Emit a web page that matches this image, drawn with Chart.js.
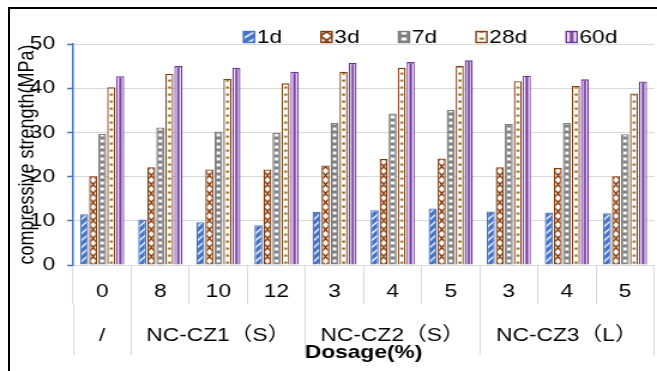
<!DOCTYPE html>
<html>
<head>
<meta charset="utf-8">
<script src="https://cdn.jsdelivr.net/npm/chart.js@4.4.1/dist/chart.umd.min.js"></script>
<style>
  html, body { margin: 0; padding: 0; background: #fff; }
  #frame { position: absolute; left: 8px; top: 7px; width: 700px; height: 400px;
           border-top: 2px solid #000; border-left: 2px solid #000; }
  /* the original picture is a little wider than tall, so the drawing is stretched sideways */
  #wrap { position: absolute; left: 0; top: 0; width: 548px; height: 371px;
          transform: scaleX(1.19891); transform-origin: 0 0; }
</style>
</head>
<body>
<div id="frame"></div>
<div id="wrap"><canvas id="strength" width="548" height="371"></canvas></div>
<script>
const dosages = ['0', '8', '10', '12', '3', '4', '5', '3', '4', '5'];
const groupNames = ['/', 'NC-CZ1（S）', 'NC-CZ2（S）', 'NC-CZ3（L）'];
const groupSizes = [1, 3, 3, 3];
const ages = ['1d', '3d', '7d', '28d', '60d'];

const day1 = [11.5, 10.3, 9.7, 9.0, 12.0, 12.4, 12.8, 12.1, 11.9, 11.7];
const day3 = [20.1, 22.1, 21.6, 21.6, 22.5, 24.0, 24.1, 22.1, 22.0, 20.1];
const day7 = [29.7, 31.1, 30.2, 29.9, 32.2, 34.3, 35.1, 31.9, 32.1, 29.6];
const day28 = [40.2, 43.2, 42.1, 41.1, 43.7, 44.6, 45.0, 41.6, 40.5, 38.8];
const day60 = [42.7, 45.0, 44.6, 43.7, 45.7, 45.9, 46.3, 42.8, 42.0, 41.5];

const yTicks = [0, 10, 20, 30, 40, 50];

const FONT = '"Liberation Sans", Arial, "Noto Sans CJK SC", sans-serif';
const blue = '#4472c4';
const brown = '#843c0c';
const gray = '#7f7f7f';
const olive = '#7f6000';
const purple = '#7030a0';
const borderColors = [blue, brown, gray, brown, purple];
const catPct = 0.776;
const barPct = 0.89;

// group boundaries / centres for the second label row
const bounds = [0];
groupSizes.forEach(n => bounds.push(bounds[bounds.length - 1] + n));
const centres = groupSizes.map((n, i) => bounds[i] + n / 2);

function makeTile(w, h, draw) {
    const c = document.createElement('canvas');
    c.width = w;
    c.height = h;
    draw(c.getContext('2d'), w, h);
    return c;
}

const tiles = [
    // 1d: blue upward diagonals
    makeTile(7, 7, (g, w, h) => {
        g.fillStyle = '#fff';
        g.fillRect(0, 0, w, h);
        g.strokeStyle = blue;
        g.lineWidth = 3.6;
        [0, 7, 14].forEach(k => {
            g.beginPath();
            g.moveTo(-2, k + 2);
            g.lineTo(k + 2, -2);
            g.stroke();
        });
    }),
    // 3d: brown zig-zag lattice
    makeTile(7, 9, (g, w, h) => {
        g.fillStyle = '#fff';
        g.fillRect(0, 0, w, h);
        g.strokeStyle = brown;
        g.lineWidth = 1.5;
        g.beginPath();
        g.moveTo(0, 0); g.lineTo(w, h);
        g.moveTo(w, 0); g.lineTo(0, h);
        g.stroke();
    }),
    // 7d: grey with small white bricks
    makeTile(7, 6, (g, w, h) => {
        g.fillStyle = gray;
        g.fillRect(0, 0, w, h);
        g.fillStyle = '#fff';
        g.fillRect(2, 1.5, 3, 3);
    }),
    // 28d: white with dots
    makeTile(7, 7, (g, w, h) => {
        g.fillStyle = '#fff';
        g.fillRect(0, 0, w, h);
        g.fillStyle = olive;
        g.fillRect(2.5, 2.5, 2.2, 2.2);
    }),
    // 60d: purple vertical line
    makeTile(7, 4, (g, w, h) => {
        g.fillStyle = '#fff';
        g.fillRect(0, 0, w, h);
        g.fillStyle = purple;
        g.fillRect(2.4, 0, 2.2, h);
    })
];

function patternAt(ctx, i, left, width) {
    const p = ctx.createPattern(tiles[i], 'repeat');
    p.setTransform(new DOMMatrix([width / tiles[i].width, 0, 0, 1, left, 0]));
    return p;
}

function barFill(i) {
    return (c) => {
        const chart = c.chart;
        const xs = chart.scales.x;
        if (c.type !== 'data' || !xs) return borderColors[i];
        const step = xs.getPixelForValue(1) - xs.getPixelForValue(0);
        const pitch = step * catPct / ages.length;
        const width = pitch * barPct;
        const centre = xs.getPixelForValue(c.dataIndex) + (c.datasetIndex - (ages.length - 1) / 2) * pitch;
        return patternAt(chart.ctx, i, centre - width / 2, width);
    };
}

const series = [day1, day3, day7, day28, day60];

const topLegend = {
    id: 'topLegend',
    afterDraw(chart) {
        const ctx = chart.ctx;
        ctx.save();
        ctx.font = '19px ' + FONT;
        ctx.textBaseline = 'middle';
        let x = 202.7;
        const y = 37;
        chart.data.datasets.forEach((ds, i) => {
            ctx.fillStyle = patternAt(ctx, i, x, 10);
            ctx.fillRect(x, y - 6, 10, 12);
            ctx.strokeStyle = ds.borderColor;
            ctx.lineWidth = 1.4;
            ctx.strokeRect(x + 0.5, y - 5.5, 9, 11);
            ctx.fillStyle = '#000';
            ctx.fillText(ds.label, x + 11.5, y + 1);
            x += 11.5 + ctx.measureText(ds.label).width + 32;
        });
        ctx.restore();
    }
};

Chart.defaults.font.family = FONT;
Chart.defaults.color = '#000';

var ctx = document.getElementById('strength').getContext('2d');
var strengthChart = new Chart(ctx, {
    type: 'bar',
    data: {
        labels: dosages,
        datasets: ages.map((name, i) => ({
            label: name,
            data: series[i],
            backgroundColor: barFill(i),
            borderColor: borderColors[i],
            borderWidth: 1.3,
            categoryPercentage: catPct,
            barPercentage: barPct
        }))
    },
    options: {
        responsive: false,
        animation: false,
        layout: { padding: { top: 44, right: 2.5, bottom: 0, left: 0 } },
        plugins: {
            legend: { display: false },
            tooltip: { enabled: false }
        },
        scales: {
            x: {
                weight: 0,
                grid: { drawOnChartArea: false, color: '#d9d9d9', tickLength: 39, offset: true },
                border: { color: '#d9d9d9', width: 1 },
                ticks: { padding: -23.4, font: { size: 19 }, maxRotation: 0, autoSkip: false },
                afterFit: s => { s.height = 39; }
            },
            x2: {
                type: 'linear',
                position: 'bottom',
                weight: 1,
                offset: false,
                min: bounds[0],
                max: bounds[bounds.length - 1],
                afterBuildTicks: s => {
                    s.ticks = bounds.concat(centres).sort((a, b) => a - b).map(v => ({ value: v }));
                },
                ticks: {
                    padding: -30.4,
                    font: { size: 19 },
                    maxRotation: 0,
                    autoSkip: false,
                    callback: (v) => {
                        const k = centres.indexOf(v);
                        return k >= 0 ? groupNames[k] : '';
                    }
                },
                grid: {
                    offset: false,
                    drawOnChartArea: false,
                    tickLength: 51,
                    color: c => (c.tick && bounds.includes(c.tick.value)) ? '#d9d9d9' : 'rgba(0,0,0,0)'
                },
                border: { display: false },
                title: {
                    display: true,
                    text: 'Dosage(%)',
                    font: { size: 19, weight: 'bold' },
                    padding: { top: 0, bottom: 6.6 }
                },
                afterFit: s => { s.height = 67; }
            },
            y: {
                min: yTicks[0],
                max: yTicks[yTicks.length - 1],
                ticks: { stepSize: yTicks[1] - yTicks[0], padding: 10, font: { size: 19 } },
                grid: { color: '#d9d9d9', tickColor: blue, tickLength: 5, tickWidth: 1.5 },
                border: { color: blue, width: 1.5 },
                title: {
                    display: true,
                    text: 'compressive strength(MPa)',
                    font: { size: 18 },
                    padding: { top: 12.6, bottom: 0 }
                },
                afterFit: s => { s.width = 61; }
            }
        }
    },
    plugins: [topLegend]
});
</script>
</body>
</html>
